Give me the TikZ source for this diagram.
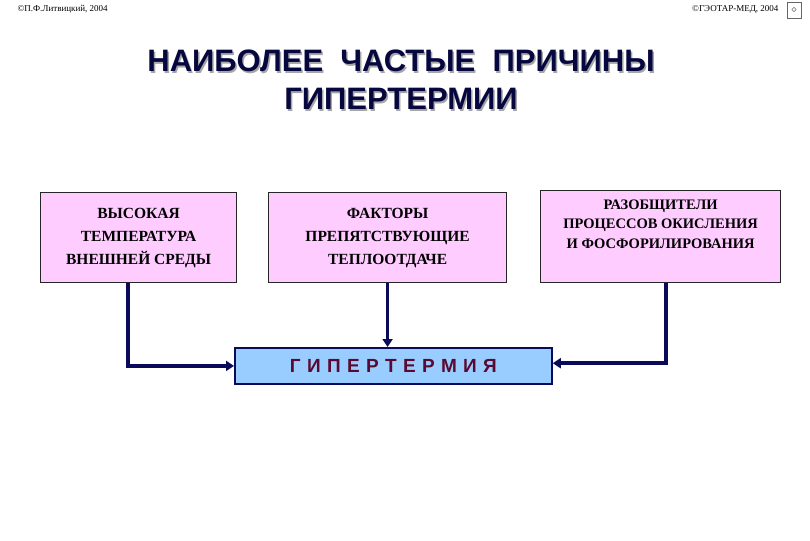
\documentclass[tikz,border=0pt]{standalone}
\usepackage{fontspec}
\setmainfont{Liberation Serif}
\newfontfamily\ttl{Liberation Sans}
\usetikzlibrary{arrows.meta}
\definecolor{pinkf}{HTML}{FFCCFF}
\definecolor{bluef}{HTML}{99CCFF}
\definecolor{navy}{HTML}{0A0A5A}
\definecolor{maroon}{HTML}{5A0A30}
\begin{document}
\begin{tikzpicture}[x=1pt,y=-1pt,
  cause/.style={draw=black!85,line width=1.2pt,fill=pinkf,anchor=north west,inner sep=0pt},
  ctext/.style={align=center,font=\bfseries\fontsize{15.5}{23}\selectfont},
  conn/.style={draw=navy,line width=3.5pt,-{Triangle[length=8pt,width=10pt]}}]
\useasboundingbox (0,0) rectangle (810,540);
\node[anchor=west,font=\fontsize{9}{10}\selectfont] (c1) at (14,9) {©П.Ф.Литвицкий, 2004};
\node[anchor=east,font=\fontsize{9}{10}\selectfont] (c2) at (782,9) {©ГЭОТАР-МЕД, 2004};
\node[draw=black!60,inner sep=0pt,minimum width=14pt,minimum height=16pt,font=\fontsize{10}{10}\selectfont] (ic) at (794,10) {$\diamond$};
\node[font=\ttl\bfseries\fontsize{31}{38}\selectfont,text=black!35,align=center] at (402.5,81.5) {НАИБОЛЕЕ \ ЧАСТЫЕ \ ПРИЧИНЫ\\ГИПЕРТЕРМИИ};
\node[font=\ttl\bfseries\fontsize{31}{38}\selectfont,text=navy!70!black,align=center] (title) at (401,80) {НАИБОЛЕЕ \ ЧАСТЫЕ \ ПРИЧИНЫ\\ГИПЕРТЕРМИИ};
\node[cause,minimum width=196pt,minimum height=90pt] (a) at (40,192) {};
\node[ctext] at (a.center) {ВЫСОКАЯ\\ТЕМПЕРАТУРА\\ВНЕШНЕЙ СРЕДЫ};
\node[cause,minimum width=238pt,minimum height=90pt] (b) at (268,192) {};
\node[ctext] at (b.center) {ФАКТОРЫ\\ПРЕПЯТСТВУЮЩИЕ\\ТЕПЛООТДАЧЕ};
\node[cause,minimum width=240pt,minimum height=92pt] (c) at (540,190) {};
\node[ctext,font=\bfseries\fontsize{14.5}{19.5}\selectfont,anchor=north] at (c.north) [yshift=-6pt] {РАЗОБЩИТЕЛИ\\ПРОЦЕССОВ ОКИСЛЕНИЯ\\И ФОСФОРИЛИРОВАНИЯ};
\node[draw=navy,line width=1.8pt,fill=bluef,minimum width=317pt,minimum height=36pt,anchor=north west,inner sep=0pt] (h) at (234,347) {};
\node[font=\ttl\bfseries\fontsize{19}{20}\selectfont,text=maroon] at (h.center) {Г\,\,И\,\,П\,\,Е\,\,Р\,\,Т\,\,Е\,\,Р\,\,М\,\,И\,\,Я};
\draw[conn] (a.south west) ++(88,0) coordinate (a1) -- (a1 |- h.west) -- (h.west);
\draw[conn] (b.south) -- (h.north -| b.south);
\draw[conn] (c.south west) ++(126,0) coordinate (c1x) -- ++(0,80) coordinate (c2x) -- (c2x -| h.east);
\end{tikzpicture}
\end{document}
